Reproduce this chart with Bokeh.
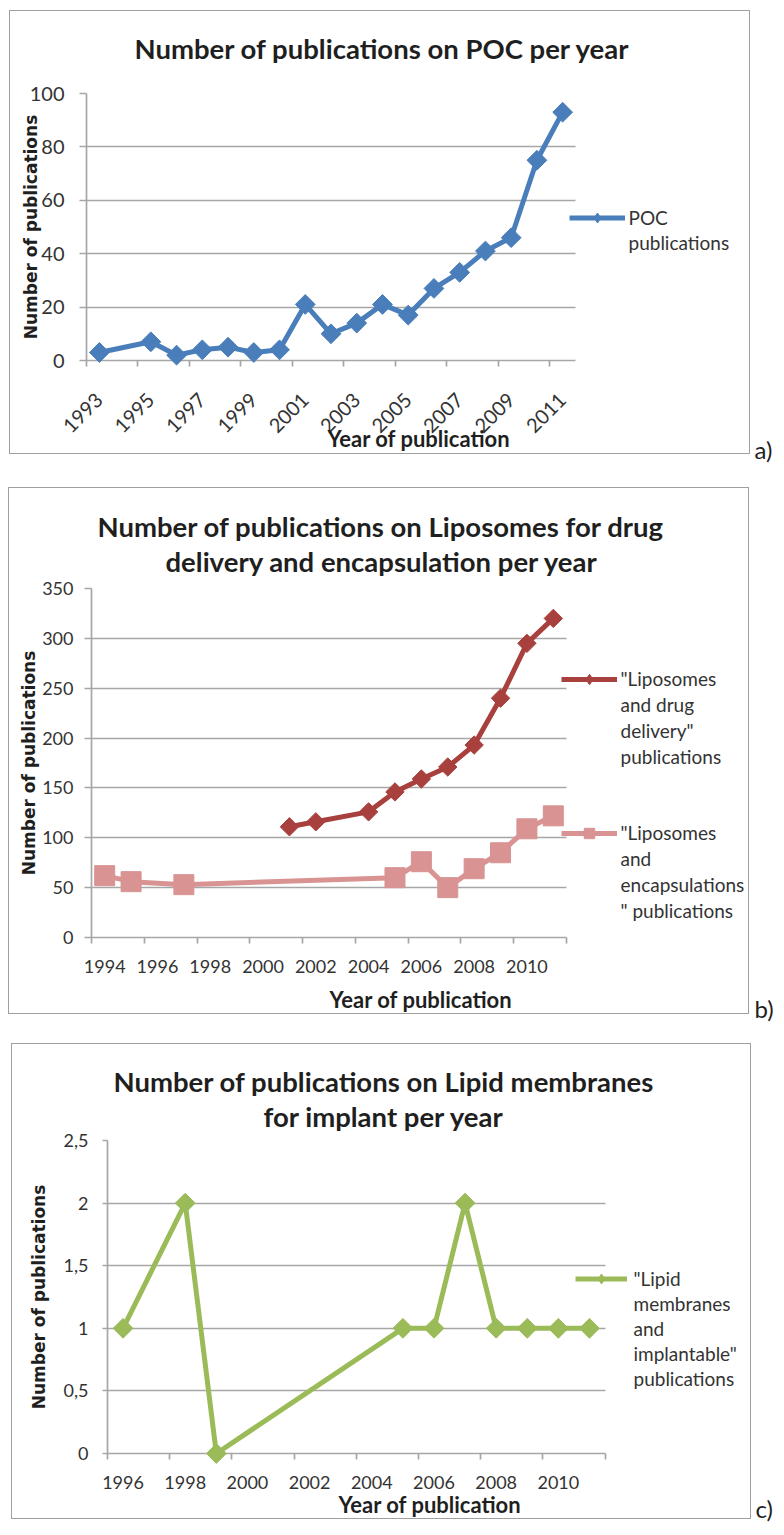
import math
from bokeh.plotting import figure
from bokeh.models import (Range1d, FixedTicker, Label, Legend, LegendItem, Title)
from bokeh.layouts import column, row
from bokeh.embed import file_html
from bokeh.resources import INLINE

# ---------------- data ----------------
a_years = [1993, 1995, 1996, 1997, 1998, 1999, 2000, 2001, 2002, 2003,
           2004, 2005, 2006, 2007, 2008, 2009, 2010, 2011]
a_poc = [3, 7, 2, 4, 5, 3, 4, 21, 10, 14, 21, 17, 27, 33, 41, 46, 75, 93]
a_ticks = [1993, 1995, 1997, 1999, 2001, 2003, 2005, 2007, 2009, 2011]
a_yticks = [0, 20, 40, 60, 80, 100]

b_drug_years = [2001, 2002, 2004, 2005, 2006, 2007, 2008, 2009, 2010, 2011]
b_drug = [111, 116, 126, 146, 159, 171, 193, 240, 295, 320]
b_enc_years = [1994, 1995, 1997, 2005, 2006, 2007, 2008, 2009, 2010, 2011]
b_enc = [62, 56, 53, 60, 76, 50, 69, 85, 109, 122]
b_ticks = [1994, 1996, 1998, 2000, 2002, 2004, 2006, 2008, 2010]
b_yticks = [0, 50, 100, 150, 200, 250, 300, 350]

c_years = [1996, 1998, 1999, 2005, 2006, 2007, 2008, 2009, 2010, 2011]
c_lipid = [1, 2, 0, 1, 1, 2, 1, 1, 1, 1]
c_ticks = [1996, 1998, 2000, 2002, 2004, 2006, 2008, 2010]
c_yticks = [0, 0.5, 1, 1.5, 2, 2.5]
c_ylabels = ["0", "0,5", "1", "1,5", "2", "2,5"]

# ---------------- style ----------------
GRID = "#A6A6A6"
BOX = "#A0A0A0"
TXT = "#333333"
TTL = "#1F1F1F"
FONT = "Lato"
TITLE_SIZE = 27.5
TITLE_H = 33  # estimated text box height of a title line
BORDER = 1.5


def no_align(p):
    try:
        p.frame_align = False
    except Exception:
        pass


def make_chart(spec):
    # box outer rect (bx, by, bw, bh) in page pixels; frame geometry in page pixels
    (bx, by, bw, bh, axis_x, axis_y_img, rule_top_img, x0, x1, ppx, y1,
     margin_top) = spec
    ox, oy = bx + BORDER, by + BORDER          # canvas origin
    W, H = bw - 3, bh - 3
    left = int(round(axis_x - ox))
    f_top = int(round(rule_top_img - oy))
    f_bot = int(round(axis_y_img - oy))
    x_end = x0 + (W - left) / ppx
    p = figure(width=W, height=H, output_backend="svg", toolbar_location=None,
               x_range=Range1d(x0, x_end), y_range=Range1d(0, y1),
               min_border_left=left, min_border_right=0,
               min_border_top=f_top, min_border_bottom=H - f_bot)
    try:
        p.title = None
    except Exception:
        p.title.text = ""
    no_align(p)
    p.margin = (margin_top, 0, 0, bx)
    p.styles = {"border": f"{BORDER}px solid {BOX}"}
    p.outline_line_color = None
    p.background_fill_color = "white"
    p.border_fill_color = "white"
    p.xgrid.visible = False
    p.ygrid.grid_line_color = GRID
    p.ygrid.grid_line_width = 1.7
    try:
        p.ygrid.cross_bounds = (x0, x1)
    except Exception:
        pass
    p.xaxis.bounds = (x0, x1)
    for ax in (p.xaxis, p.yaxis):
        ax.axis_line_color = GRID
        ax.axis_line_width = 1.7
        ax.major_label_text_font = FONT
        ax.major_label_text_color = TXT
    p.yaxis.major_tick_line_color = GRID
    p.yaxis.major_tick_line_width = 1.7
    p.yaxis.major_tick_in = 0
    p.yaxis.minor_tick_line_color = None
    p.xaxis.major_tick_line_color = None
    p.xaxis.major_tick_out = 0
    p.xaxis.major_tick_in = 0
    p.xaxis.minor_tick_line_color = GRID
    p.xaxis.minor_tick_line_width = 1.7
    p.xaxis.minor_tick_in = 0
    p.xaxis.minor_tick_out = 6
    p.xaxis.axis_label = "Year of publication"
    p.xaxis.axis_label_text_font = FONT
    p.xaxis.axis_label_text_font_style = "bold"
    p.xaxis.axis_label_text_font_size = "22px"
    p.xaxis.axis_label_text_color = TTL
    p.yaxis.axis_label = "Number of publications"
    p.yaxis.axis_label_text_font = "DejaVu Sans"
    p.yaxis.axis_label_text_font_style = "bold"
    p.yaxis.axis_label_text_font_size = "17px"
    p.yaxis.axis_label_text_color = TTL

    geo = dict(ox=ox, oy=oy, left=left, f_top=f_top, f_bot=f_bot, x0=x0)
    return p, geo


def title_obj(text, offset):
    return Title(text=text, align="left", offset=offset, vertical_align="bottom",
                 standoff=0, text_font=FONT, text_font_style="bold",
                 text_font_size=f"{TITLE_SIZE}px", text_color=TTL)


def add_titles(p, geo, lines):
    """lines: list of (text, left_img_x, center_img_y) from top to bottom."""
    F = geo["f_top"]
    c_last = lines[-1][2] - geo["oy"]
    gap = F - c_last - TITLE_H / 2.0
    p.add_layout(Title(text=" ", standoff=max(0, int(round(gap - 1.9))),
                       text_font_size="2px"), "above")
    for text, lx, cy in reversed(lines):
        p.add_layout(title_obj(text, int(round(lx - geo["ox"] - geo["left"]))), "above")


def add_legend(p, geo, renderers, lines, glyph_x, first_center, lh,
               glyph_w=56, standoff=4):
    dummy = p.line(x=[], y=[], line_alpha=0)
    items = [LegendItem(label=lines[0], renderers=renderers)]
    items += [LegendItem(label=t, renderers=[dummy]) for t in lines[1:]]
    bottom_img = first_center - lh / 2.0 + lh * len(lines)
    vx = glyph_x - geo["ox"] - geo["left"]
    vy = geo["f_bot"] - (bottom_img - geo["oy"])
    lg = Legend(items=items, location=(vx, vy), border_line_color=None,
                background_fill_alpha=0, padding=0, margin=0, spacing=0,
                glyph_width=glyph_w, glyph_height=lh, label_height=lh,
                label_standoff=standoff, label_text_font=FONT,
                label_text_font_size="19px", label_text_color=TXT)
    p.add_layout(lg)


def tag_fig(H, text, tx, ty, margin_top):
    t = figure(width=26, height=H, output_backend="svg", toolbar_location=None,
               x_range=Range1d(0, 26), y_range=Range1d(0, H),
               min_border=0, x_axis_type=None, y_axis_type=None)
    try:
        t.title = None
    except Exception:
        t.title.text = ""
    no_align(t)
    t.margin = (margin_top, 0, 0, 0)
    t.outline_line_color = None
    t.grid.visible = False
    t.add_layout(Label(x=tx, y=H - ty, text=text, text_align="left",
                       text_baseline="middle", text_font=FONT,
                       text_font_size="24px", text_color=TTL))
    return t


def series(p, geo, xs, ys, color, marker, size, angle, legend_marker):
    r1 = p.line(xs, ys, line_color=color, line_width=5, line_join="round")
    p.scatter(xs, ys, marker=marker, size=size, angle=angle,
              fill_color=color, line_color=color, level="overlay")
    # legend sample marker (placed far outside the visible range)
    r3 = p.scatter(x=[geo["x0"] - 100], y=[0], marker=legend_marker, size=10,
                   fill_color=color, line_color=color)
    return [r1, r3]


DIAMOND = math.pi / 4

# ---------------- chart a ----------------
# box x, y, w, h | y-axis x, zero-line y, top-rule y | x0, x1, px/yr, ymax | margin_top
spec_a = (9, 10, 744, 447, 86.7, 360.7, 94.0, 1992.5, 2011.5, 489 / 19, 100, 10)
pa, ga = make_chart(spec_a)
pa.xaxis.ticker = FixedTicker(ticks=a_ticks, minor_ticks=[t - 0.5 for t in a_ticks])
pa.yaxis.ticker = FixedTicker(ticks=a_yticks, minor_ticks=[])
pa.xaxis.major_label_orientation = math.pi / 4
pa.xaxis.major_label_text_font_size = "20px"
pa.yaxis.major_label_text_font_size = "20px"
pa.yaxis.major_tick_out = 7
pa.yaxis.major_label_standoff = 15
pa.yaxis.axis_label_standoff = -14
pa.xaxis.major_label_standoff = 30
pa.xaxis.axis_label_standoff = -17
ra = series(pa, ga, a_years, a_poc, "#4A7EBB", "square", 14, DIAMOND, "diamond")
add_titles(pa, ga, [("Number of publications on POC per year", 134, 50)])
add_legend(pa, ga, ra, ["POC", "publications"], 569, 218, 25)
ta = tag_fig(460, "a)", 4, 449 - 10, 10)

# ---------------- chart b ----------------
spec_b = (8, 487, 744, 530, 91.0, 937.7, 589.0, 1993.5, 2011.5, 475 / 18, 350, 17)
pb, gb = make_chart(spec_b)
pb.xaxis.ticker = FixedTicker(ticks=b_ticks, minor_ticks=[t - 0.5 for t in b_ticks] + [2011.5])
pb.yaxis.ticker = FixedTicker(ticks=b_yticks, minor_ticks=[])
pb.xaxis.major_label_text_font_size = "18px"
pb.yaxis.major_label_text_font_size = "18px"
pb.yaxis.major_tick_out = 7
pb.yaxis.major_label_standoff = 11
pb.yaxis.axis_label_standoff = 0
pb.xaxis.major_label_standoff = 16
pb.xaxis.axis_label_standoff = 10
rb1 = series(pb, gb, b_drug_years, b_drug, "#A8403D", "square", 13, DIAMOND, "diamond")
rb2 = series(pb, gb, b_enc_years, b_enc, "#D89392", "square", 20, 0, "square")
add_titles(pb, gb, [("Number of publications on Liposomes for drug", 97, 527),
                    ("delivery and encapsulation per year", 166, 563)])
add_legend(pb, gb, rb1, ['"Liposomes', "and drug", 'delivery"', "publications"],
           561, 679, 26)
add_legend(pb, gb, rb2, ['"Liposomes', "and", "encapsulations", '" publications'],
           561, 833.3, 26)
tb = tag_fig(540, "b)", 5, 1008 - 487, 17)

# ---------------- chart c ----------------
spec_c = (11, 1043, 743, 479, 107.5, 1453.3, 1140.0, 1995.5, 2011.5, 497.5 / 16, 2.5, 16)
pc, gc = make_chart(spec_c)
pc.xaxis.ticker = FixedTicker(ticks=c_ticks, minor_ticks=[t - 0.5 for t in c_ticks] + [2011.5])
pc.yaxis.ticker = FixedTicker(ticks=c_yticks, minor_ticks=[])
pc.yaxis.major_label_overrides = {v: s for v, s in zip(c_yticks, c_ylabels)}
pc.xaxis.major_label_text_font_size = "18px"
pc.yaxis.major_label_text_font_size = "18px"
pc.yaxis.major_tick_out = 5
pc.yaxis.major_label_standoff = 14
pc.yaxis.axis_label_standoff = 12
pc.xaxis.major_label_standoff = 16
pc.xaxis.axis_label_standoff = -1
rc = series(pc, gc, c_years, c_lipid, "#9BBB59", "square", 14, DIAMOND, "diamond")
add_titles(pc, gc, [("Number of publications on Lipid membranes", 113, 1083),
                    ("for implant per year", 263, 1118)])
add_legend(pc, gc, rc, ['"Lipid', "membranes", "and", 'implantable"', "publications"],
           575, 1279, 25, glyph_w=52, standoff=7)
tc = tag_fig(488, "c)", 4, 1508 - 1043, 16)

layout = column(row(pa, ta), row(pb, tb), row(pc, tc))
open("out.html", "w").write(file_html(layout, INLINE))
